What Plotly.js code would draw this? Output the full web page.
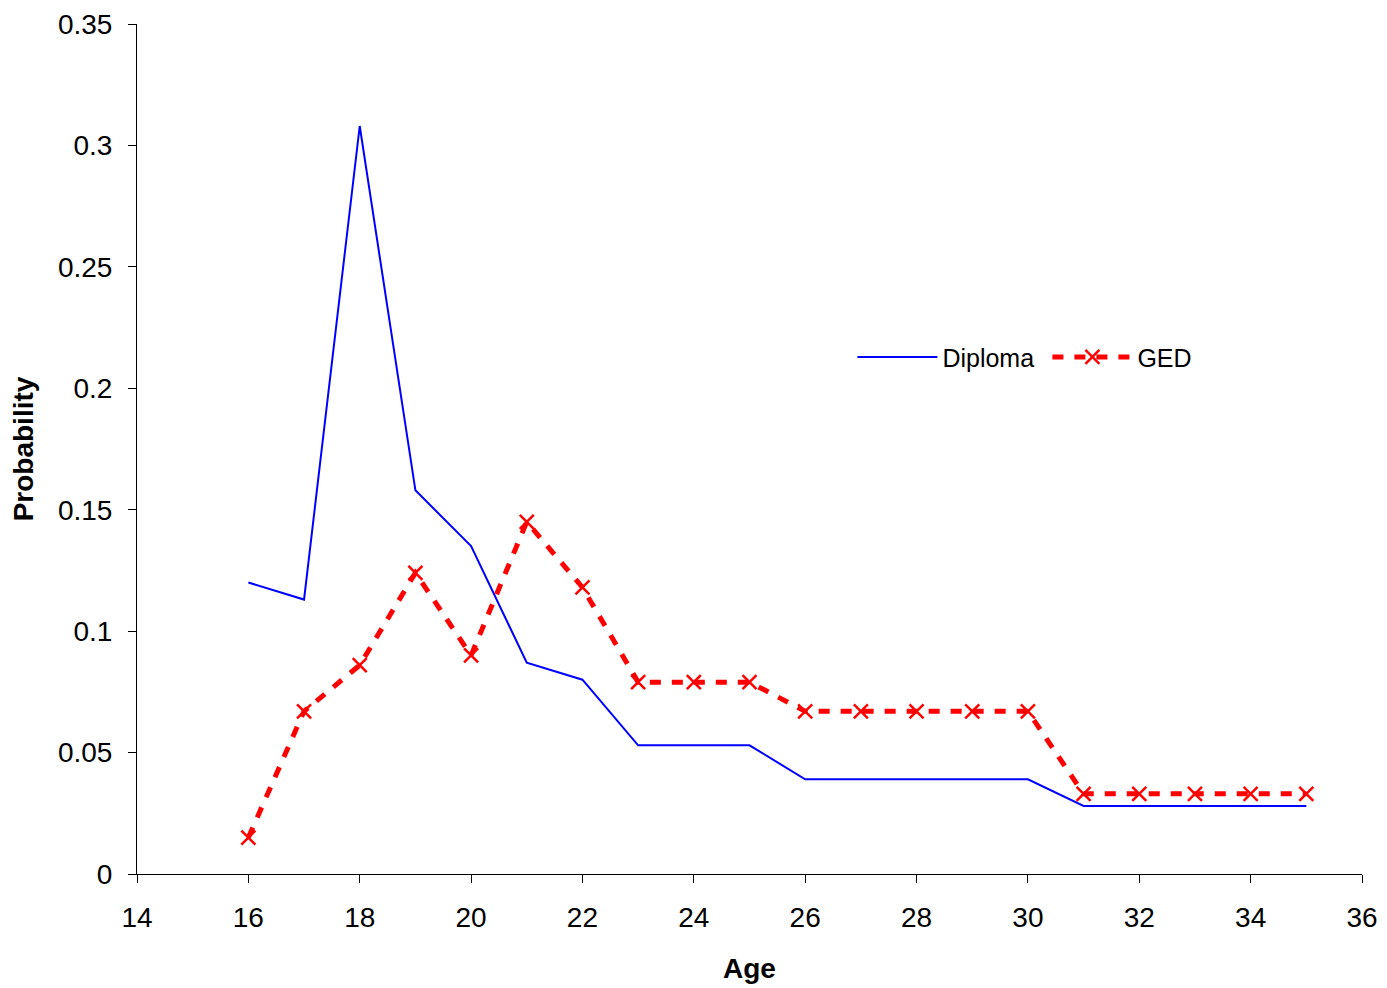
<!DOCTYPE html>
<html>
<head>
<meta charset="utf-8">
<script src="https://cdn.plot.ly/plotly-3.0.1.min.js"></script>
<style>html,body{margin:0;padding:0;background:#fff;}#chart{width:1387px;height:988px;}</style>
</head>
<body>
<div id="chart"></div>
<script>
var ages = [16,17,18,19,20,21,22,23,24,25,26,27,28,29,30,31,32,33,34,35];
var diploma = [0.120,0.113,0.308,0.158,0.135,0.087,0.080,0.053,0.053,0.053,0.039,0.039,0.039,0.039,0.039,0.028,0.028,0.028,0.028,0.028];
var ged = [0.015,0.067,0.086,0.124,0.090,0.145,0.118,0.079,0.079,0.079,0.067,0.067,0.067,0.067,0.067,0.033,0.033,0.033,0.033,0.033];
var xTicks = [14,16,18,20,22,24,26,28,30,32,34,36];
var yTicks = [0,0.05,0.1,0.15,0.2,0.25,0.3,0.35];
var yTickText = ['0','0.05','0.1','0.15','0.2','0.25','0.3','0.35'];

var traces = [
  {x: ages, y: diploma, name: 'Diploma', type: 'scatter', mode: 'lines',
   line: {color: '#0000FF', width: 2}},
  {x: ages, y: ged, name: 'GED', type: 'scatter', mode: 'lines+markers',
   line: {color: '#FF0000', width: 5, dash: '11px,11px'},
   marker: {symbol: 'x-thin-open', size: 14, color: '#FF0000', line: {color: '#FF0000', width: 2.5}}}
];

var font = {family: 'Liberation Sans, Arial, sans-serif', color: '#000'};
var layout = {
  width: 1387, height: 988,
  margin: {l: 137, r: 25, t: 24, b: 114},
  paper_bgcolor: '#fff', plot_bgcolor: '#fff',
  font: font,
  showlegend: true,
  legend: {orientation: 'h', x: 0.584, y: 0.608, xanchor: 'left', yanchor: 'middle',
           itemwidth: 80, entrywidth: 100, entrywidthmode: 'pixels',
           font: {family: font.family, size: 25, color: '#000'}, bgcolor: 'rgba(0,0,0,0)'},
  xaxis: {range: [14, 36], tickvals: xTicks, ticktext: xTicks.map(String),
          showline: true, linecolor: '#000', linewidth: 1, showgrid: false, zeroline: false,
          ticks: 'outside', ticklen: 8, tickcolor: '#000', tickwidth: 1,
          tickfont: {family: font.family, size: 28, color: '#000'}, ticklabelstandoff: 10,
          title: {text: '<b>Age</b>', font: {family: font.family, size: 28, color: '#000'}, standoff: 26}},
  yaxis: {range: [0, 0.35], tickvals: yTicks, ticktext: yTickText,
          showline: true, linecolor: '#000', linewidth: 1, showgrid: false, zeroline: false,
          ticks: 'outside', ticklen: 8, tickcolor: '#000', tickwidth: 1,
          tickfont: {family: font.family, size: 28, color: '#000'}, ticklabelstandoff: 10,
          title: {text: '<b>Probability</b>', font: {family: font.family, size: 28, color: '#000'}, standoff: 16}}
};
Plotly.newPlot('chart', traces, layout, {displayModeBar: false, staticPlot: true});
</script>
</body>
</html>
